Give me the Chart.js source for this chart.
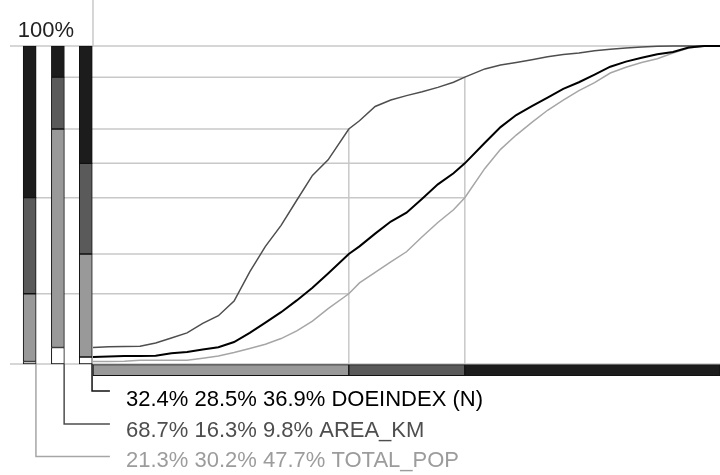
<!DOCTYPE html>
<html>
<head>
<meta charset="utf-8">
<script src="https://cdn.jsdelivr.net/npm/chart.js@4.4.1/dist/chart.umd.min.js"></script>
<style>
    body { margin: 0; background: #fff; }
    #wrap { width: 720px; height: 475px; }
</style>
</head>
<body>
<div id="wrap"><canvas id="chart" width="720" height="475"></canvas></div>
<script>
// variables, top to bottom in the label list
const variables = ['DOEINDEX (N)', 'AREA_KM', 'TOTAL_POP'];
// class shares (light, dark, black) per variable, in %
const sharesDoe = [32.4, 28.5, 36.9];
const sharesArea = [68.7, 16.3, 9.8];
const sharesPop = [21.3, 30.2, 47.7];
// class boundaries along the x axis (0..100)
const classBreaks = [40.8, 59.3];

// cumulative curves, x in % of axis width, y in %
const rankX = [0, 2.5, 5, 7.5, 10, 12.5, 15, 17.5, 20, 22.5, 25, 27.5, 30, 32.5, 35, 37.5, 40.8, 42.5, 45, 47.5,
    50, 52.5, 55, 57.5, 59.3, 62.5, 65, 67.5, 70, 72.5, 75, 77.5, 80, 82.5, 85, 87.5, 90, 92.5, 95, 97.5, 100];
const cumDoe = [2.2, 2.4, 2.5, 2.5, 2.6, 3.4, 3.8, 4.6, 5.3, 6.9, 9.8, 13.0, 16.3, 20.0, 24.0, 28.5, 34.6, 37.0, 41.0, 44.8,
    47.6, 52.0, 56.5, 60.0, 63.1, 69.6, 74.5, 78.3, 81.1, 83.8, 86.5, 88.6, 91.0, 93.5, 95.1, 96.3, 97.4, 98.1, 99.5, 100, 100];
const cumArea = [5.2, 5.4, 5.5, 5.6, 6.6, 8.2, 9.8, 12.8, 15.2, 19.8, 29.0, 37.0, 43.6, 51.5, 59.3, 64.2, 73.9, 76.5, 81.0, 83.0,
    84.4, 85.6, 87.0, 88.6, 90.2, 92.8, 94.0, 94.8, 95.7, 96.6, 97.3, 97.8, 98.5, 99.0, 99.4, 99.7, 99.9, 100, 100, 100, 100];
const cumPop = [0.8, 0.8, 0.9, 1.2, 1.2, 1.2, 1.2, 1.8, 2.5, 3.6, 4.9, 6.2, 8.0, 10.4, 13.5, 17.4, 22.1, 25.5, 28.8, 32.1,
    35.3, 40.0, 44.5, 48.5, 52.3, 61.5, 67.5, 72.0, 76.0, 79.8, 83.0, 86.0, 88.5, 91.5, 93.3, 94.8, 96.0, 97.8, 99.4, 100, 100];

// layout (axis units)
const X_MIN = -14.83, X_MAX = 100, Y_MIN = -34.9, Y_MAX = 114.47;
const LINE_START = -13.24;
const BAR_X = { 'TOTAL_POP': -10.1, 'AREA_KM': -5.6, 'DOEINDEX (N)': -1.15 };
const BAR_HALF = 1.0;
const BAND_Y = -1.9;
const ROW_Y = [-8.5, -18.9, -29.1];
const LABEL_Y = [-13.2, -22.9, -32.5];
const LEADER_END = 2.7, LABEL_X = 5.26, TOP_LABEL_X = -3.03;

const LIGHT = '#999999', DARK = '#5a5a5a', BLACK = '#1c1c1c', GRID = '#c8c8c8';
const curveColors = ['#000000', '#4e4e4e', '#a6a6a6'];
const textColors = ['#000000', '#4e4e4e', '#9c9c9c'];

const shares = [sharesDoe, sharesArea, sharesPop];
const curves = [cumDoe, cumArea, cumPop];

function line(points, color, width, order) {
    return {
        type: 'line',
        data: points.map(p => ({ x: p[0], y: p[1] })),
        borderColor: color,
        borderWidth: width,
        pointRadius: 0,
        tension: 0,
        fill: false,
        order: order
    };
}

function cumulative(s) {
    const missing = 100 - s.reduce((a, b) => a + b, 0);
    const edges = [0, missing];
    s.forEach(v => edges.push(edges[edges.length - 1] + v));
    return edges;
}

const datasets = [];

// curves
variables.forEach((name, i) => {
    datasets.push(Object.assign(line(rankX.map((x, j) => [x, curves[i][j]]), curveColors[i], i === 0 ? 2 : 1.5, 1), { label: name }));
});

// guide lines
datasets.push(line([[LINE_START, 100], [X_MAX, 100]], GRID, 1.5, 30));
datasets.push(line([[LINE_START, 0], [X_MAX, 0]], GRID, 1.5, 30));
datasets.push(line([[0, 100], [0, Y_MAX]], GRID, 1.5, 30));
variables.forEach((name, i) => {
    const edges = cumulative(shares[i]);
    classBreaks.forEach((b, k) => {
        datasets.push(line([[BAR_X[name], edges[k + 2]], [b, edges[k + 2]]], GRID, 1.5, 30));
    });
});
classBreaks.forEach((b, k) => {
    const top = Math.max(...variables.map((n, i) => cumulative(shares[i])[k + 2]));
    datasets.push(line([[b, 0], [b, top]], GRID, 1.5, 30));
});

// leaders
variables.forEach((name, i) => {
    const x0 = BAR_X[name] + BAR_HALF;
    datasets.push(line([[x0, 0], [x0, ROW_Y[i]], [LEADER_END, ROW_Y[i]]], curveColors[i] === '#000000' ? '#111' : curveColors[i], 1.5, 25));
});

// stacked columns on the left
variables.forEach((name, i) => {
    const edges = cumulative(shares[i]);
    const segs = [];
    for (let k = 0; k < edges.length - 1; k++) segs.push({ x: BAR_X[name], y: [edges[k], edges[k + 1]] });
    datasets.push({
        type: 'bar',
        data: segs,
        backgroundColor: ['#ffffff', LIGHT, DARK, BLACK],
        borderColor: '#111',
        borderWidth: 1,
        borderSkipped: false,
        barThickness: 13,
        grouped: false,
        order: 5
    });
});

// class band along the bottom
const bandEdges = [0, ...classBreaks, X_MAX];
datasets.push({
    type: 'bar',
    indexAxis: 'y',
    data: bandEdges.slice(0, -1).map((e, k) => ({ y: BAND_Y, x: [e, bandEdges[k + 1]] })),
    backgroundColor: [LIGHT, DARK, BLACK],
    borderColor: '#111',
    borderWidth: 1,
    borderSkipped: false,
    barThickness: 11,
    grouped: false,
    order: 5
});

const textPlugin = {
    id: 'textLabels',
    afterDatasetsDraw(chart) {
        const { ctx, scales: { x, y } } = chart;
        ctx.save();
        ctx.font = '22px "Liberation Sans", Arial, sans-serif';
        ctx.textBaseline = 'alphabetic';
        ctx.fillStyle = '#222';
        ctx.textAlign = 'right';
        ctx.fillText('100%', x.getPixelForValue(TOP_LABEL_X), y.getPixelForValue(100) - 9);
        ctx.textAlign = 'left';
        variables.forEach((name, i) => {
            const txt = shares[i].map(v => v.toFixed(1) + '%').join(' ') + ' ' + name;
            ctx.fillStyle = textColors[i];
            ctx.fillText(txt, x.getPixelForValue(LABEL_X), y.getPixelForValue(LABEL_Y[i]));
        });
        ctx.restore();
    }
};

new Chart(document.getElementById('chart'), {
    type: 'bar',
    data: { datasets },
    options: {
        responsive: false,
        animation: false,
        layout: { padding: 0 },
        plugins: { legend: { display: false }, tooltip: { enabled: false } },
        scales: {
            x: { type: 'linear', min: X_MIN, max: X_MAX, display: false, offset: false },
            y: { type: 'linear', min: Y_MIN, max: Y_MAX, display: false, offset: false }
        }
    },
    plugins: [textPlugin]
});
</script>
</body>
</html>
